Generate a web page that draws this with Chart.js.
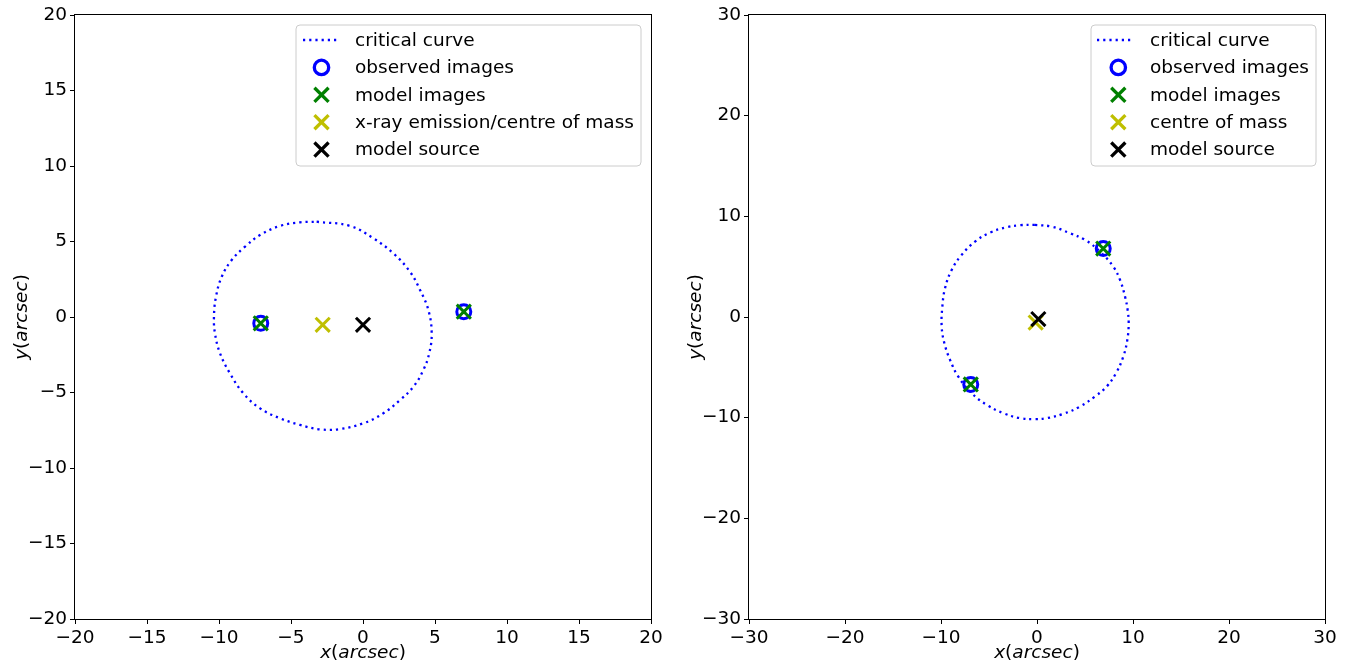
<!DOCTYPE html>
<html><head><meta charset="utf-8">
<script src="https://cdn.jsdelivr.net/npm/chart.js@4/dist/chart.umd.min.js"></script>
<style>
html,body{margin:0;padding:0;background:#fff;width:1359px;height:669px;overflow:hidden}
canvas{position:absolute;top:0}
#c1{left:0}
#c2{left:680px}
</style></head><body>
<canvas id="c1" width="700" height="669"></canvas>
<canvas id="c2" width="679" height="669"></canvas>
<script>
// ---------- data ----------
const leftCriticalX = [-3.22,-0.9,0.72,2.1,3.26,3.96,4.54,4.77,4.6,4.19,3.5,2.57,1.41,0.02,-1.6,-2.99,-4.37,-5.76,-7.15,-8.31,-9.24,-9.93,-10.28,-10.35,-10.21,-9.81,-9.12,-8.19,-7.15,-5.76,-4.37];
const leftCriticalY = [6.31,6.03,5.21,4.22,3.0,1.79,0.46,-1.08,-2.4,-3.51,-4.62,-5.5,-6.38,-7.04,-7.42,-7.44,-7.15,-6.71,-6.05,-5.05,-3.73,-2.4,-1.08,0.02,1.34,2.67,3.77,4.66,5.43,6.03,6.27];
const leftObservedX = [-7.1, 7.0];
const leftObservedY = [-0.42, 0.35];
const leftModelX = [-7.1, 7.0];
const leftModelY = [-0.42, 0.35];
const leftCentreX = [-2.8];
const leftCentreY = [-0.52];
const leftSourceX = [0.0];
const leftSourceY = [-0.52];
const leftTicks = [-20,-15,-10,-5,0,5,10,15,20];
const leftLabels = ['critical curve','observed images','model images','x-ray emission/centre of mass','model source'];

const rightCriticalX = [-0.21,1.53,3.44,5.0,6.56,7.95,8.65,9.17,9.44,9.55,9.41,8.99,8.23,7.26,6.04,4.48,2.74,1.01,-0.21,-1.77,-3.51,-5.24,-6.8,-8.2,-9.06,-9.65,-9.93,-9.86,-9.58,-8.89,-7.85,-6.46,-4.9,-3.16,-1.77];
const rightCriticalY = [9.15,8.98,8.32,7.66,6.5,5.0,3.68,2.03,0.7,-0.62,-2.27,-3.93,-5.58,-6.91,-7.9,-8.9,-9.62,-10.05,-10.15,-10.05,-9.55,-8.73,-7.57,-5.92,-4.26,-2.6,-0.95,1.03,2.86,4.68,6.17,7.49,8.38,8.92,9.12];
const rightObservedX = [6.9, -6.9];
const rightObservedY = [6.8, -6.7];
const rightModelX = [6.9, -6.9];
const rightModelY = [6.8, -6.7];
const rightCentreX = [-0.14];
const rightCentreY = [-0.55];
const rightSourceX = [0.14];
const rightSourceY = [-0.2];
const rightTicks = [-30,-20,-10,0,10,20,30];
const rightLabels = ['critical curve','observed images','model images','centre of mass','model source'];

const axisTitleX = ['x','(','arcsec',')'];
const axisTitleY = ['y','(','arcsec',')'];

// ---------- helpers ----------
const FONT = "'DejaVu Sans'";
const FSIZE = 18.5;
function pts(xs, ys){ return xs.map((x,i)=>({x:x, y:ys[i]})); }
function closed(xs, ys){ const p = pts(xs, ys); p.push({x:xs[0], y:ys[0]}); return p; }
function fmt(v){ return String(v).replace('-', '\u2212'); }

const frame = {
  id:'frame',
  afterDraw(chart){
    const a = chart.chartArea, ctx = chart.ctx;
    ctx.save();
    ctx.strokeStyle = '#000'; ctx.lineWidth = 1;
    ctx.strokeRect(Math.round(a.left)-0.5, Math.round(a.top)-0.5, Math.round(a.right-a.left)+1, Math.round(a.bottom-a.top)+1);
    ctx.restore();
  }
};

function drawMixed(ctx, parts, x, y){
  const fonts = parts.map((p,i)=> (i%2===0 ? 'italic ' : '') + FSIZE + 'px ' + FONT);
  let w = 0; const ws = [];
  parts.forEach((p,i)=>{ ctx.font = fonts[i]; const m = ctx.measureText(p).width; ws.push(m); w += m; });
  let cx = x - w/2;
  parts.forEach((p,i)=>{ ctx.font = fonts[i]; ctx.fillText(p, cx, y); cx += ws[i]; });
}

const titles = {
  id:'titles',
  afterDraw(chart){
    const a = chart.chartArea, ctx = chart.ctx;
    ctx.save();
    ctx.fillStyle = '#000'; ctx.textBaseline = 'alphabetic'; ctx.textAlign = 'left';
    drawMixed(ctx, axisTitleX, (a.left+a.right)/2, a.bottom + 39);
    ctx.translate(a.left - 48, (a.top+a.bottom)/2);
    ctx.rotate(-Math.PI/2);
    drawMixed(ctx, axisTitleY, 0, 0);
    ctx.restore();
  }
};

const boxLegend = {
  id:'boxLegend',
  afterDraw(chart, args, o){
    const ctx = chart.ctx;
    ctx.save();
    const r = 4;
    ctx.beginPath();
    ctx.moveTo(o.x0 + r, o.y0);
    ctx.arcTo(o.x1, o.y0, o.x1, o.y1, r);
    ctx.arcTo(o.x1, o.y1, o.x0, o.y1, r);
    ctx.arcTo(o.x0, o.y1, o.x0, o.y0, r);
    ctx.arcTo(o.x0, o.y0, o.x1, o.y0, r);
    ctx.closePath();
    ctx.fillStyle = 'rgba(255,255,255,0.8)';
    ctx.fill();
    ctx.strokeStyle = '#cccccc'; ctx.lineWidth = 1;
    ctx.stroke();
    chart.data.datasets.forEach((ds, i) => {
      const y = o.rowY0 + i*o.rowGap;
      ctx.strokeStyle = ds.borderColor || ds.pointBorderColor;
      if (ds.showLine) {
        ctx.lineWidth = ds.borderWidth; ctx.setLineDash(ds.borderDash); ctx.lineCap = 'butt';
        ctx.beginPath(); ctx.moveTo(o.lineX0, y); ctx.lineTo(o.lineX1, y); ctx.stroke();
        ctx.setLineDash([]);
      } else if (ds.pointStyle === 'circle') {
        ctx.strokeStyle = ds.pointBorderColor; ctx.lineWidth = 3.3;
        ctx.beginPath(); ctx.arc(o.markerX, y, 7.2, 0, Math.PI*2); ctx.stroke();
      } else {
        ctx.strokeStyle = ds.pointBorderColor; ctx.lineWidth = 3.3;
        const d = ds.pointRadius * Math.SQRT1_2;
        ctx.beginPath();
        ctx.moveTo(o.markerX-d, y-d); ctx.lineTo(o.markerX+d, y+d);
        ctx.moveTo(o.markerX+d, y-d); ctx.lineTo(o.markerX-d, y+d);
        ctx.stroke();
      }
      ctx.fillStyle = '#000'; ctx.font = FSIZE + 'px ' + FONT; ctx.textBaseline = 'middle'; ctx.textAlign = 'left';
      ctx.fillText(ds.label, o.textX, y + 1);
    });
    ctx.restore();
  }
};

function axis(ticks, fitProp, fitVal){
  return {
    type:'linear', min: ticks[0], max: ticks[ticks.length-1],
    afterBuildTicks: s => { s.ticks = ticks.map(v => ({value:v})); },
    afterFit: s => { s[fitProp] = fitVal; },
    grid:{display:true, drawOnChartArea:false, drawTicks:true, tickLength:5, tickWidth:1, tickColor:'#000'},
    border:{display:false},
    ticks:{color:'#000', font:{family:FONT, size:FSIZE}, padding:3, maxRotation:0, autoSkip:false, callback: v => fmt(v)}
  };
}

function panel(id, d){
  const canvas = document.getElementById(id);
  const W = canvas.width;
  return new Chart(canvas, {
    type:'scatter',
    data:{datasets:[
      {label:d.labels[0], data:closed(d.cx, d.cy), showLine:true, borderColor:'#0000ff', borderWidth:2.3, borderDash:[2.2,4.0], borderCapStyle:'butt', tension:0.4, pointRadius:0, order:5},
      {label:d.labels[1], data:pts(d.ox, d.oy), pointStyle:'circle', pointRadius:7, pointBorderWidth:3, pointBorderColor:'#0000ff', pointBackgroundColor:'rgba(0,0,0,0)', order:4},
      {label:d.labels[2], data:pts(d.mx, d.my), pointStyle:'crossRot', pointRadius:10, pointBorderWidth:3, pointBorderColor:'#008000', order:3},
      {label:d.labels[3], data:pts(d.gx, d.gy), pointStyle:'crossRot', pointRadius:10, pointBorderWidth:3, pointBorderColor:'#bfbf00', order:2},
      {label:d.labels[4], data:pts(d.sx, d.sy), pointStyle:'crossRot', pointRadius:10, pointBorderWidth:3, pointBorderColor:'#000000', order:1}
    ]},
    options:{
      responsive:false, animation:false, events:[], devicePixelRatio:1,
      layout:{padding:{top:15, left:0, bottom:0, right: W - d.right}},
      scales:{ x: axis(d.ticks, 'height', 50), y: axis(d.ticks, 'width', d.left) },
      plugins:{ legend:{display:false}, tooltip:{enabled:false}, boxLegend: d.legend }
    },
    plugins:[frame, titles, boxLegend]
  });
}

panel('c1', {
  labels:leftLabels, ticks:leftTicks, left:75, right:651,
  cx:leftCriticalX, cy:leftCriticalY, ox:leftObservedX, oy:leftObservedY, mx:leftModelX, my:leftModelY,
  gx:leftCentreX, gy:leftCentreY, sx:leftSourceX, sy:leftSourceY,
  legend:{x0:296, y0:25, x1:641, y1:166, rowY0:40, rowGap:27.4, lineX0:303, lineX1:338, markerX:321.5, textX:355}
});
panel('c2', {
  labels:rightLabels, ticks:rightTicks, left:69, right:645,
  cx:rightCriticalX, cy:rightCriticalY, ox:rightObservedX, oy:rightObservedY, mx:rightModelX, my:rightModelY,
  gx:rightCentreX, gy:rightCentreY, sx:rightSourceX, sy:rightSourceY,
  legend:{x0:411, y0:25, x1:636, y1:166, rowY0:40, rowGap:27.4, lineX0:417, lineX1:452.5, markerX:438.3, textX:470}
});
</script>
</body></html>
